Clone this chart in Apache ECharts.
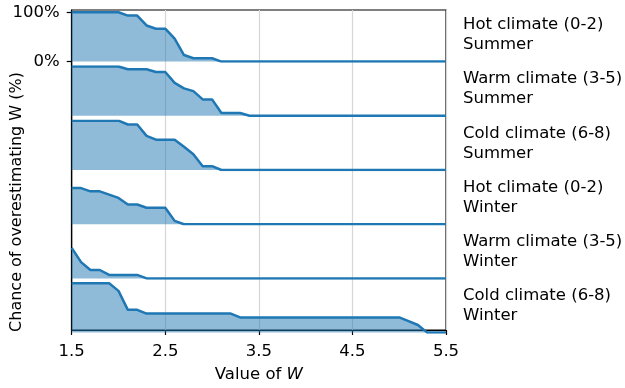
<!DOCTYPE html>
<html>
<head>
<meta charset="utf-8">
<script src="https://cdn.jsdelivr.net/npm/echarts@6/dist/echarts.min.js"></script>
<style>
  html, body { margin: 0; padding: 0; background: #fff; }
  #chart { width: 625px; height: 388px; }
</style>
</head>
<body>
<div id="chart"></div>
<script>
// ---- Data ----
const xValues = [1.5,1.6,1.7,1.8,1.9,2.0,2.1,2.2,2.3,2.4,2.5,2.6,2.7,2.8,2.9,3.0,3.1,3.2,3.3,3.4,3.5,3.6,3.7,3.8,3.9,4.0,4.1,4.2,4.3,4.4,4.5,4.6,4.7,4.8,4.9,5.0,5.1,5.2,5.3,5.4,5.5];
const xTicks = [1.5, 2.5, 3.5, 4.5, 5.5];
const panelLabels = [
  'Hot climate (0-2)\nSummer',
  'Warm climate (3-5)\nSummer',
  'Cold climate (6-8)\nSummer',
  'Hot climate (0-2)\nWinter',
  'Warm climate (3-5)\nWinter',
  'Cold climate (6-8)\nWinter'
];
//                    1.5 1.6 1.7 1.8 1.9 2.0 2.1  2.2  2.3  2.4  2.5  2.6  2.7  2.8  2.9  3.0  3.1 3.2 3.3 3.4 ...
const hotSummer   = [100,100,100,100,100,100,93.3,93.3,73.3,66.7,66.7,46.7,13.3,6.7,6.7,6.7,0,0,0,0,0,0,0,0,0,0,0,0,0,0,0,0,0,0,0,0,0,0,0,0,0];
const warmSummer  = [100,100,100,100,100,100,94.4,94.4,94.4,88.9,88.9,66.7,55.6,50,33.3,33.3,5.6,5.6,5.6,0,0,0,0,0,0,0,0,0,0,0,0,0,0,0,0,0,0,0,0,0,0];
const coldSummer  = [100,100,100,100,100,100,92.3,92.3,69.2,61.5,61.5,61.5,47,32,7.7,7.7,0,0,0,0,0,0,0,0,0,0,0,0,0,0,0,0,0,0,0,0,0,0,0,0,0];
const hotWinter   = [73.3,73.3,66.7,66.7,60,53.3,40,40,33.3,33.3,33.3,6.7,0,0,0,0,0,0,0,0,0,0,0,0,0,0,0,0,0,0,0,0,0,0,0,0,0,0,0,0,0];
const warmWinter  = [62,33,17,17,7,7,7,7,0,0,0,0,0,0,0,0,0,0,0,0,0,0,0,0,0,0,0,0,0,0,0,0,0,0,0,0,0,0,0,0,0];
const coldWinter  = [100,100,100,100,100,84.6,46.2,46.2,38.5,38.5,38.5,38.5,38.5,38.5,38.5,38.5,38.5,38.5,30.8,30.8,30.8,30.8,30.8,30.8,30.8,30.8,30.8,30.8,30.8,30.8,30.8,30.8,30.8,30.8,30.8,30.8,23.1,15.4,0,0,0];
const panelData = [hotSummer, warmSummer, coldSummer, hotWinter, warmWinter, coldWinter];
const yTicks = [0, 100];

// ---- Layout ----
const W = 625, H = 388;
const PLOT_LEFT = 71.7, PLOT_RIGHT = 446;
const FRAME_TOP = 10, FRAME_BOTTOM = 335;
const PANEL_TOP0 = 12.3, PANEL_STEP = 54.2, PANEL_H = 49.3;
const FONT = 'DejaVu Sans';
const FS = 16.5;
const LINE_COLOR = '#1f77b4';

const chart = echarts.init(document.getElementById('chart'), null, { renderer: 'canvas' });

const grids = [], xAxes = [], yAxes = [], series = [], graphics = [];

// Main frame grid (index 0)
grids.push({
  left: PLOT_LEFT, right: W - PLOT_RIGHT, top: FRAME_TOP, bottom: H - FRAME_BOTTOM,
  show: true, borderColor: '#000', borderWidth: 1.2, backgroundColor: 'transparent'
});
xAxes.push({
  gridIndex: 0, type: 'value', min: 1.5, max: 5.5, interval: 1,
  axisLine: { show: true, lineStyle: { color: '#000', width: 1.2 } },
  axisTick: { show: true, length: 5, lineStyle: { color: '#000', width: 1.2 } },
  axisLabel: { show: true, color: '#000', fontFamily: FONT, fontSize: FS, margin: 13,
               formatter: v => v.toFixed(1) },
  splitLine: { show: true, lineStyle: { color: '#d6d6d6', width: 1.2 } },
  name: '{n|Value of }{i|W}', nameLocation: 'middle', nameGap: 36,
  nameTextStyle: { rich: {
    n: { fontFamily: FONT, fontSize: FS, color: '#000' },
    i: { fontFamily: FONT, fontSize: FS, color: '#000', fontStyle: 'italic' }
  } }
});
yAxes.push({
  gridIndex: 0, type: 'value', min: 0, max: 1,
  axisLine: { show: true, lineStyle: { color: '#000', width: 1.2 } },
  axisTick: { show: false }, axisLabel: { show: false }, splitLine: { show: false }
});

panelData.forEach((vals, i) => {
  const gi = i + 1;
  const top = PANEL_TOP0 + PANEL_STEP * i;
  grids.push({ left: PLOT_LEFT, right: W - PLOT_RIGHT, top: top, height: PANEL_H });
  xAxes.push({ gridIndex: gi, type: 'value', min: 1.5, max: 5.5, show: false });
  const showY = (i === 0);
  yAxes.push({
    gridIndex: gi, type: 'value', min: 0, max: 100, interval: 100,
    show: showY,
    axisLine: { show: false },
    axisTick: { show: showY, length: 5, lineStyle: { color: '#000', width: 1.2 } },
    axisLabel: { show: showY, color: '#000', fontFamily: FONT, fontSize: FS, margin: 12,
                 formatter: v => v + '%' },
    splitLine: { show: false }
  });
  series.push({
    type: 'line', xAxisIndex: gi, yAxisIndex: gi,
    data: xValues.map((x, k) => [x, vals[k]]),
    showSymbol: false, symbol: 'none', smooth: false,
    lineStyle: { color: LINE_COLOR, width: 2.5 },
    areaStyle: { color: LINE_COLOR, opacity: 0.5, origin: 'start' },
    silent: true, animation: false, z: 2
  });
  graphics.push({
    type: 'text', left: 463, top: top + PANEL_H / 2 - 2 - 20,
    style: { text: panelLabels[i], fontFamily: FONT, fontSize: FS, lineHeight: 20,
             fill: '#000', textVerticalAlign: 'top' }
  });
});

graphics.push({
  type: 'text', x: 17, y: 202, rotation: Math.PI / 2,
  style: { text: 'Chance of overestimating W (%)', fontFamily: FONT, fontSize: 16,
           fill: '#000', textAlign: 'center', textVerticalAlign: 'middle' }
});

chart.setOption({
  animation: false,
  grid: grids, xAxis: xAxes, yAxis: yAxes, series: series, graphic: graphics
});
</script>
</body>
</html>
